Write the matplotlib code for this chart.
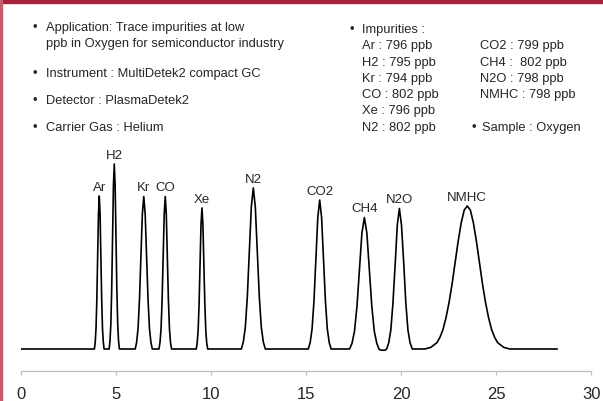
import matplotlib
matplotlib.use("Agg")
import matplotlib.pyplot as plt
from matplotlib.patches import Rectangle

plt.rcParams["font.family"] = ["Liberation Sans", "DejaVu Sans"]

# peak table (retention time in min, apex height in arbitrary units)
peak_names = ["Ar", "H2", "Kr", "CO", "Xe", "N2", "CO2", "CH4", "N2O", "NMHC"]
peak_times = [4.13, 4.92, 6.47, 7.60, 9.53, 12.23, 15.72, 18.07, 19.91, 23.48]
peak_heights = [153, 185, 152.5, 152.5, 141, 161, 149, 131.5, 140.5, 143]

# chromatogram trace
time_min = [
    0.0,
    3.875, 3.918, 3.96, 4.003, 4.045, 4.088, 4.13, 4.173, 4.215, 4.258, 4.30, 4.343, 4.385,
    4.65, 4.695, 4.74, 4.785, 4.83, 4.875, 4.92, 4.965, 5.01, 5.055, 5.10, 5.145, 5.19,
    6.02, 6.095, 6.17, 6.245, 6.32, 6.395, 6.47, 6.545, 6.62, 6.695, 6.77, 6.845, 6.92,
    7.27, 7.325, 7.38, 7.435, 7.49, 7.545, 7.60, 7.655, 7.71, 7.765, 7.82, 7.875, 7.93,
    9.23, 9.28, 9.33, 9.38, 9.43, 9.48, 9.53, 9.58, 9.63, 9.68, 9.73, 9.78, 9.83,
    11.60, 11.705, 11.81, 11.915, 12.02, 12.125, 12.23, 12.335, 12.44, 12.545, 12.65, 12.755, 12.86,
    15.12, 15.22, 15.32, 15.42, 15.52, 15.62, 15.72, 15.82, 15.92, 16.02, 16.12, 16.22, 16.32,
    17.29, 17.42, 17.55, 17.68, 17.81, 17.94, 18.07, 18.20, 18.33, 18.46, 18.59, 18.72, 18.85,
    18.95, 19.15,
    19.24, 19.35, 19.46, 19.57, 19.69, 19.80, 19.91, 20.02, 20.14, 20.25, 20.36, 20.47, 20.59,
    21.24, 21.56, 21.88, 22.04, 22.20, 22.36, 22.52, 22.68, 22.84, 23.00, 23.16, 23.32, 23.48,
    23.64, 23.80, 23.96, 24.12, 24.28, 24.44, 24.60, 24.76, 24.92, 25.08, 25.40, 25.72,
    28.2,
]
signal = [
    0.0,
    0.0, 6.7, 20.7, 49.7, 92.8, 135.0, 153.0, 135.0, 92.8, 49.7, 20.7, 6.7, 0.0,
    0.0, 8.1, 25.0, 60.1, 112.2, 163.3, 185.0, 163.3, 112.2, 60.1, 25.0, 8.1, 0.0,
    0.0, 6.7, 20.6, 49.5, 92.5, 134.6, 152.5, 134.6, 92.5, 49.5, 20.6, 6.7, 0.0,
    0.0, 6.7, 20.6, 49.5, 92.5, 134.6, 152.5, 134.6, 92.5, 49.5, 20.6, 6.7, 0.0,
    0.0, 6.2, 19.1, 45.8, 85.5, 124.4, 141.0, 124.4, 85.5, 45.8, 19.1, 6.2, 0.0,
    0.0, 7.1, 21.8, 52.3, 97.6, 142.1, 161.0, 142.1, 97.6, 52.3, 21.8, 7.1, 0.0,
    0.0, 6.5, 20.2, 48.4, 90.4, 131.5, 149.0, 131.5, 90.4, 48.4, 20.2, 6.5, 0.0,
    0.0, 5.8, 17.8, 42.7, 79.8, 116.0, 131.5, 116.0, 79.8, 42.7, 17.8, 5.8, -0.5,
    -1.2, -1.2,
    0.0, 6.2, 19.0, 45.6, 85.2, 124.0, 140.5, 124.0, 85.2, 45.6, 19.0, 6.2, 0.0,
    0.0, 1.6, 6.3, 11.5, 19.3, 31.2, 46.4, 65.0, 86.7, 107.7, 126.2, 139.0, 143.0,
    139.0, 126.2, 107.7, 86.7, 65.0, 46.4, 31.2, 19.3, 11.5, 6.3, 1.6, 0.0,
    0.0,
]

x_ticks = [0, 5, 10, 15, 20, 25, 30]

info_left = [
    ("Application: Trace impurities at low", 31.5, True),
    ("ppb in Oxygen for semiconductor industry", 47.0, False),
    ("Instrument : MultiDetek2 compact GC", 76.5, True),
    ("Detector : PlasmaDetek2", 104.3, True),
    ("Carrier Gas : Helium", 131.0, True),
]
impurities_col1 = ["Ar : 796 ppb", "H2 : 795 ppb", "Kr : 794 ppb",
                   "CO : 802 ppb", "Xe : 796 ppb", "N2 : 802 ppb"]
impurities_col2 = ["CO2 : 799 ppb", "CH4 :  802 ppb", "N2O : 798 ppb",
                   "NMHC : 798 ppb"]

W, H = 603, 402
fig = plt.figure(figsize=(W / 100, H / 100), dpi=100)
fig.patch.set_facecolor("white")


def fx(px):
    return px / W


def fy(py):
    return 1 - py / H


# red frame
fig.patches.append(Rectangle((0, fy(4)), 1, 4 / H, transform=fig.transFigure,
                             color="#a8203a", zorder=0))
fig.patches.append(Rectangle((0, 0), 2 / W, 1, transform=fig.transFigure,
                             color="#c65a6b", zorder=0))

ax = fig.add_axes([fx(20.7), fy(372), fx(591.3) - fx(20.7), fy(140) - fy(372)])
ax.plot(time_min, signal, color="black", lw=1.2, solid_joinstyle="round")
ax.set_xlim(0, 30)
ax.set_ylim(-22, 210)
ax.set_facecolor("none")
for s in ["left", "right", "top"]:
    ax.spines[s].set_visible(False)
ax.spines["bottom"].set_color("#bfbfbf")
ax.spines["bottom"].set_linewidth(0.9)
ax.set_yticks([])
ax.set_xticks(x_ticks)
ax.set_xticklabels([str(t) for t in x_ticks])
ax.tick_params(axis="x", colors="#bfbfbf", length=3, width=0.9,
               labelsize=12, labelcolor="#262626", pad=7.5)

for name, t, h in zip(peak_names, peak_times, peak_heights):
    ax.annotate(name, (t, h), xytext=(0, 4.5), textcoords="offset points",
                ha="center", va="baseline", fontsize=9.5, color="#262626")

fs = 9.3
tc = "#262626"
for txt, base, bullet in info_left:
    fig.text(fx(45.7), fy(base), txt, fontsize=fs, color=tc, va="baseline")
    if bullet:
        fig.text(fx(35), fy(base), "\u2022", fontsize=fs, color=tc,
                 ha="center", va="baseline")

fig.text(fx(351.7), fy(33), "\u2022", fontsize=fs, color=tc, ha="center", va="baseline")
fig.text(fx(361.7), fy(33), "Impurities :", fontsize=fs, color=tc, va="baseline")
for i, txt in enumerate(impurities_col1):
    fig.text(fx(362.3), fy(49.3 + 16.3 * i), txt, fontsize=fs, color=tc, va="baseline")
for i, txt in enumerate(impurities_col2):
    fig.text(fx(480), fy(49.3 + 16.3 * i), txt, fontsize=fs, color=tc, va="baseline")
fig.text(fx(473.3), fy(131), "\u2022", fontsize=fs, color=tc, ha="center", va="baseline")
fig.text(fx(481.7), fy(131), "Sample : Oxygen", fontsize=fs, color=tc, va="baseline")

fig.savefig("out.png", dpi=100)
